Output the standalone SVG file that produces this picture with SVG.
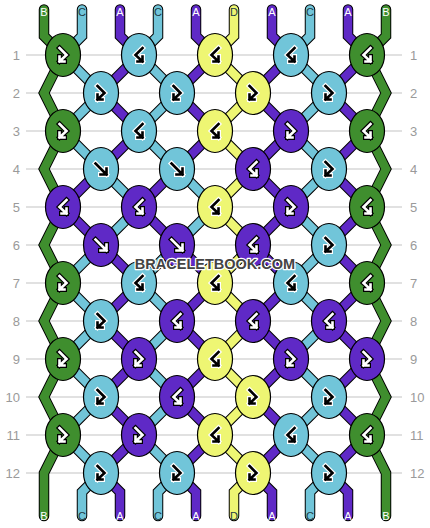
<svg xmlns="http://www.w3.org/2000/svg" xmlns:xlink="http://www.w3.org/1999/xlink" width="430" height="528" viewBox="0 0 430 528">
<style>
.rl{stroke:#c4c4c4;stroke-width:1.2}
.rn{font-family:"Liberation Sans",Arial,sans-serif;font-size:13px;fill:#9a9a9a}
.lb{font-family:"Liberation Sans",Arial,sans-serif;font-size:11px;text-anchor:middle}
.lw{fill:#fff}.lk{fill:#1f3b44}
.th{fill:none;stroke-linejoin:miter;stroke-linecap:round}
.ol{stroke:#000;stroke-width:10.5}
.cg{stroke:#3f8e2e;stroke-width:8.5}
.cb{stroke:#71c5d9;stroke-width:8.5}
.ca{stroke:#5f29c6;stroke-width:8.5}
.cd{stroke:#eef673;stroke-width:8.5}
ellipse{stroke:#000;stroke-width:1.2}
.G ellipse{fill:#3f8e2e}.A ellipse{fill:#5f29c6}.C ellipse{fill:#71c5d9}.D ellipse{fill:#eef673}
use.ao{fill:none;stroke-width:5;stroke-linecap:square;stroke-linejoin:miter}
use.ai{fill:none;stroke-width:2.6;stroke-linecap:square;stroke-linejoin:miter}
.G use.ao,.A use.ao{stroke:#000}.G use.ai,.A use.ai{stroke:#fff}
.C use.ao,.D use.ao{stroke:#fff}.C use.ai,.D use.ai{stroke:#000}
.wm{font-family:"Liberation Sans",Arial,sans-serif;font-weight:bold;font-size:14.5px;text-anchor:middle;fill:#444;stroke:#fff;stroke-width:2.5;paint-order:stroke;stroke-linejoin:round}
</style>
<defs>
<path id="f" d="M-5.5,-5.5L5.5,5.5M5.5,-0.5L5.5,5.5L-0.5,5.5"/>
<path id="b" d="M5.5,-5.5L-5.5,5.5M-5.5,-0.5L-5.5,5.5L0.5,5.5"/>
<path id="fb" d="M-3.5,-7L3.5,0L-3.5,6.5M-3.5,1.5L-3.5,6.5L1.5,6.5"/>
<path id="bf" d="M3.5,-7L-3.5,0L3.5,6.5M3.5,1.5L3.5,6.5L-1.5,6.5"/>
<polyline id="t0" points="44,9.5 44,36 63,55 44,93 63,131 44,169 63,207 44,245 63,283 44,321 63,359 44,397 63,435 44,473 44,516"/>
<polyline id="t1" points="82,9.5 82,36 63,55 101,93 63,131 101,169 139,207 101,245 63,283 101,321 63,359 101,397 63,435 101,473 82,492 82,516"/>
<polyline id="t2" points="120,9.5 120,36 139,55 101,93 139,131 101,169 63,207 101,245 139,283 101,321 139,359 101,397 139,435 101,473 120,492 120,516"/>
<polyline id="t3" points="158,9.5 158,36 139,55 177,93 139,131 177,169 215,207 177,245 139,283 177,321 139,359 177,397 139,435 177,473 158,492 158,516"/>
<polyline id="t4" points="196,9.5 196,36 215,55 177,93 215,131 177,169 139,207 177,245 215,283 177,321 215,359 177,397 215,435 177,473 196,492 196,516"/>
<polyline id="t5" points="234,9.5 234,36 215,55 253,93 215,131 253,169 215,207 253,245 215,283 253,321 215,359 253,397 215,435 253,473 234,492 234,516"/>
<polyline id="t6" points="272,9.5 272,36 291,55 253,93 291,131 253,169 291,207 253,245 291,283 253,321 291,359 253,397 291,435 253,473 272,492 272,516"/>
<polyline id="t7" points="310,9.5 310,36 291,55 329,93 291,131 329,169 291,207 329,245 291,283 329,321 291,359 329,397 291,435 329,473 310,492 310,516"/>
<polyline id="t8" points="348,9.5 348,36 367,55 329,93 367,131 329,169 367,207 329,245 367,283 329,321 367,359 329,397 367,435 329,473 348,492 348,516"/>
<polyline id="t9" points="386,9.5 386,36 367,55 386,93 367,131 386,169 367,207 386,245 367,283 386,321 367,359 386,397 367,435 386,473 386,516"/>
</defs>
<rect width="430" height="528" fill="#fff"/>
<g id="rows">
<g class="rl">
<line x1="26" y1="55" x2="402" y2="55"/><line x1="26" y1="93" x2="402" y2="93"/><line x1="26" y1="131" x2="402" y2="131"/><line x1="26" y1="169" x2="402" y2="169"/><line x1="26" y1="207" x2="402" y2="207"/><line x1="26" y1="245" x2="402" y2="245"/><line x1="26" y1="283" x2="402" y2="283"/><line x1="26" y1="321" x2="402" y2="321"/><line x1="26" y1="359" x2="402" y2="359"/><line x1="26" y1="397" x2="402" y2="397"/><line x1="26" y1="435" x2="402" y2="435"/><line x1="26" y1="473" x2="402" y2="473"/>
</g>
<g class="rn" text-anchor="end">
<text x="20" y="59.5">1</text><text x="20" y="97.5">2</text><text x="20" y="135.5">3</text><text x="20" y="173.5">4</text><text x="20" y="211.5">5</text><text x="20" y="249.5">6</text><text x="20" y="287.5">7</text><text x="20" y="325.5">8</text><text x="20" y="363.5">9</text><text x="20" y="401.5">10</text><text x="20" y="439.5">11</text><text x="20" y="477.5">12</text>
</g>
<g class="rn">
<text x="410" y="59.5">1</text><text x="410" y="97.5">2</text><text x="410" y="135.5">3</text><text x="410" y="173.5">4</text><text x="410" y="211.5">5</text><text x="410" y="249.5">6</text><text x="410" y="287.5">7</text><text x="410" y="325.5">8</text><text x="410" y="363.5">9</text><text x="410" y="401.5">10</text><text x="410" y="439.5">11</text><text x="410" y="477.5">12</text>
</g>
</g>
<g id="connectors" class="th">
<use href="#t0" class="th ol"/><use href="#t0" class="th cg"/>
<use href="#t1" class="th ol"/><use href="#t1" class="th cb"/>
<use href="#t2" class="th ol"/><use href="#t2" class="th ca"/>
<use href="#t3" class="th ol"/><use href="#t3" class="th cb"/>
<use href="#t4" class="th ol"/><use href="#t4" class="th ca"/>
<use href="#t5" class="th ol"/><use href="#t5" class="th cd"/>
<use href="#t6" class="th ol"/><use href="#t6" class="th ca"/>
<use href="#t7" class="th ol"/><use href="#t7" class="th cb"/>
<use href="#t8" class="th ol"/><use href="#t8" class="th ca"/>
<use href="#t9" class="th ol"/><use href="#t9" class="th cg"/>
</g>
<g id="labels" class="lb">
<text x="44" y="16" class="lw">B</text><text x="82" y="16" class="lk">C</text><text x="120" y="16" class="lw">A</text><text x="158" y="16" class="lk">C</text><text x="196" y="16" class="lw">A</text><text x="234" y="16" class="lk">D</text><text x="272" y="16" class="lw">A</text><text x="310" y="16" class="lk">C</text><text x="348" y="16" class="lw">A</text><text x="386" y="16" class="lw">B</text>
<text x="44" y="519.5" class="lw">B</text><text x="82" y="519.5" class="lk">C</text><text x="120" y="519.5" class="lw">A</text><text x="158" y="519.5" class="lk">C</text><text x="196" y="519.5" class="lw">A</text><text x="234" y="519.5" class="lk">D</text><text x="272" y="519.5" class="lw">A</text><text x="310" y="519.5" class="lk">C</text><text x="348" y="519.5" class="lw">A</text><text x="386" y="519.5" class="lw">B</text>
</g>
<g id="knots">
<g id="k1-1" class="G" transform="translate(63,55)"><ellipse rx="17.5" ry="21.5"/><use href="#fb" class="ao"/><use href="#fb" class="ai"/></g>
<g id="k1-2" class="C" transform="translate(139,55)"><ellipse rx="17.5" ry="21.5"/><use href="#bf" class="ao"/><use href="#bf" class="ai"/></g>
<g id="k1-3" class="D" transform="translate(215,55)"><ellipse rx="17.5" ry="21.5"/><use href="#bf" class="ao"/><use href="#bf" class="ai"/></g>
<g id="k1-4" class="C" transform="translate(291,55)"><ellipse rx="17.5" ry="21.5"/><use href="#bf" class="ao"/><use href="#bf" class="ai"/></g>
<g id="k1-5" class="G" transform="translate(367,55)"><ellipse rx="17.5" ry="21.5"/><use href="#bf" class="ao"/><use href="#bf" class="ai"/></g>

<g id="k2-1" class="C" transform="translate(101,93)"><ellipse rx="17.5" ry="21.5"/><use href="#fb" class="ao"/><use href="#fb" class="ai"/></g>
<g id="k2-2" class="C" transform="translate(177,93)"><ellipse rx="17.5" ry="21.5"/><use href="#fb" class="ao"/><use href="#fb" class="ai"/></g>
<g id="k2-3" class="D" transform="translate(253,93)"><ellipse rx="17.5" ry="21.5"/><use href="#fb" class="ao"/><use href="#fb" class="ai"/></g>
<g id="k2-4" class="C" transform="translate(329,93)"><ellipse rx="17.5" ry="21.5"/><use href="#fb" class="ao"/><use href="#fb" class="ai"/></g>

<g id="k3-1" class="G" transform="translate(63,131)"><ellipse rx="17.5" ry="21.5"/><use href="#fb" class="ao"/><use href="#fb" class="ai"/></g>
<g id="k3-2" class="C" transform="translate(139,131)"><ellipse rx="17.5" ry="21.5"/><use href="#bf" class="ao"/><use href="#bf" class="ai"/></g>
<g id="k3-3" class="D" transform="translate(215,131)"><ellipse rx="17.5" ry="21.5"/><use href="#bf" class="ao"/><use href="#bf" class="ai"/></g>
<g id="k3-4" class="A" transform="translate(291,131)"><ellipse rx="17.5" ry="21.5"/><use href="#fb" class="ao"/><use href="#fb" class="ai"/></g>
<g id="k3-5" class="G" transform="translate(367,131)"><ellipse rx="17.5" ry="21.5"/><use href="#bf" class="ao"/><use href="#bf" class="ai"/></g>

<g id="k4-1" class="C" transform="translate(101,169)"><ellipse rx="17.5" ry="21.5"/><use href="#f" class="ao"/><use href="#f" class="ai"/></g>
<g id="k4-2" class="C" transform="translate(177,169)"><ellipse rx="17.5" ry="21.5"/><use href="#f" class="ao"/><use href="#f" class="ai"/></g>
<g id="k4-3" class="A" transform="translate(253,169)"><ellipse rx="17.5" ry="21.5"/><use href="#bf" class="ao"/><use href="#bf" class="ai"/></g>
<g id="k4-4" class="C" transform="translate(329,169)"><ellipse rx="17.5" ry="21.5"/><use href="#fb" class="ao"/><use href="#fb" class="ai"/></g>

<g id="k5-1" class="A" transform="translate(63,207)"><ellipse rx="17.5" ry="21.5"/><use href="#bf" class="ao"/><use href="#bf" class="ai"/></g>
<g id="k5-2" class="A" transform="translate(139,207)"><ellipse rx="17.5" ry="21.5"/><use href="#bf" class="ao"/><use href="#bf" class="ai"/></g>
<g id="k5-3" class="D" transform="translate(215,207)"><ellipse rx="17.5" ry="21.5"/><use href="#bf" class="ao"/><use href="#bf" class="ai"/></g>
<g id="k5-4" class="A" transform="translate(291,207)"><ellipse rx="17.5" ry="21.5"/><use href="#fb" class="ao"/><use href="#fb" class="ai"/></g>
<g id="k5-5" class="G" transform="translate(367,207)"><ellipse rx="17.5" ry="21.5"/><use href="#bf" class="ao"/><use href="#bf" class="ai"/></g>

<g id="k6-1" class="A" transform="translate(101,245)"><ellipse rx="17.5" ry="21.5"/><use href="#f" class="ao"/><use href="#f" class="ai"/></g>
<g id="k6-2" class="A" transform="translate(177,245)"><ellipse rx="17.5" ry="21.5"/><use href="#f" class="ao"/><use href="#f" class="ai"/></g>
<g id="k6-3" class="A" transform="translate(253,245)"><ellipse rx="17.5" ry="21.5"/><use href="#bf" class="ao"/><use href="#bf" class="ai"/></g>
<g id="k6-4" class="C" transform="translate(329,245)"><ellipse rx="17.5" ry="21.5"/><use href="#fb" class="ao"/><use href="#fb" class="ai"/></g>

<g id="k7-1" class="G" transform="translate(63,283)"><ellipse rx="17.5" ry="21.5"/><use href="#fb" class="ao"/><use href="#fb" class="ai"/></g>
<g id="k7-2" class="C" transform="translate(139,283)"><ellipse rx="17.5" ry="21.5"/><use href="#bf" class="ao"/><use href="#bf" class="ai"/></g>
<g id="k7-3" class="D" transform="translate(215,283)"><ellipse rx="17.5" ry="21.5"/><use href="#bf" class="ao"/><use href="#bf" class="ai"/></g>
<g id="k7-4" class="C" transform="translate(291,283)"><ellipse rx="17.5" ry="21.5"/><use href="#bf" class="ao"/><use href="#bf" class="ai"/></g>
<g id="k7-5" class="G" transform="translate(367,283)"><ellipse rx="17.5" ry="21.5"/><use href="#bf" class="ao"/><use href="#bf" class="ai"/></g>

<g id="k8-1" class="C" transform="translate(101,321)"><ellipse rx="17.5" ry="21.5"/><use href="#fb" class="ao"/><use href="#fb" class="ai"/></g>
<g id="k8-2" class="A" transform="translate(177,321)"><ellipse rx="17.5" ry="21.5"/><use href="#bf" class="ao"/><use href="#bf" class="ai"/></g>
<g id="k8-3" class="A" transform="translate(253,321)"><ellipse rx="17.5" ry="21.5"/><use href="#bf" class="ao"/><use href="#bf" class="ai"/></g>
<g id="k8-4" class="A" transform="translate(329,321)"><ellipse rx="17.5" ry="21.5"/><use href="#bf" class="ao"/><use href="#bf" class="ai"/></g>

<g id="k9-1" class="G" transform="translate(63,359)"><ellipse rx="17.5" ry="21.5"/><use href="#fb" class="ao"/><use href="#fb" class="ai"/></g>
<g id="k9-2" class="A" transform="translate(139,359)"><ellipse rx="17.5" ry="21.5"/><use href="#fb" class="ao"/><use href="#fb" class="ai"/></g>
<g id="k9-3" class="D" transform="translate(215,359)"><ellipse rx="17.5" ry="21.5"/><use href="#bf" class="ao"/><use href="#bf" class="ai"/></g>
<g id="k9-4" class="A" transform="translate(291,359)"><ellipse rx="17.5" ry="21.5"/><use href="#fb" class="ao"/><use href="#fb" class="ai"/></g>
<g id="k9-5" class="A" transform="translate(367,359)"><ellipse rx="17.5" ry="21.5"/><use href="#fb" class="ao"/><use href="#fb" class="ai"/></g>

<g id="k10-1" class="C" transform="translate(101,397)"><ellipse rx="17.5" ry="21.5"/><use href="#fb" class="ao"/><use href="#fb" class="ai"/></g>
<g id="k10-2" class="A" transform="translate(177,397)"><ellipse rx="17.5" ry="21.5"/><use href="#bf" class="ao"/><use href="#bf" class="ai"/></g>
<g id="k10-3" class="D" transform="translate(253,397)"><ellipse rx="17.5" ry="21.5"/><use href="#fb" class="ao"/><use href="#fb" class="ai"/></g>
<g id="k10-4" class="C" transform="translate(329,397)"><ellipse rx="17.5" ry="21.5"/><use href="#fb" class="ao"/><use href="#fb" class="ai"/></g>

<g id="k11-1" class="G" transform="translate(63,435)"><ellipse rx="17.5" ry="21.5"/><use href="#fb" class="ao"/><use href="#fb" class="ai"/></g>
<g id="k11-2" class="A" transform="translate(139,435)"><ellipse rx="17.5" ry="21.5"/><use href="#fb" class="ao"/><use href="#fb" class="ai"/></g>
<g id="k11-3" class="D" transform="translate(215,435)"><ellipse rx="17.5" ry="21.5"/><use href="#bf" class="ao"/><use href="#bf" class="ai"/></g>
<g id="k11-4" class="C" transform="translate(291,435)"><ellipse rx="17.5" ry="21.5"/><use href="#bf" class="ao"/><use href="#bf" class="ai"/></g>
<g id="k11-5" class="G" transform="translate(367,435)"><ellipse rx="17.5" ry="21.5"/><use href="#bf" class="ao"/><use href="#bf" class="ai"/></g>

<g id="k12-1" class="C" transform="translate(101,473)"><ellipse rx="17.5" ry="21.5"/><use href="#fb" class="ao"/><use href="#fb" class="ai"/></g>
<g id="k12-2" class="C" transform="translate(177,473)"><ellipse rx="17.5" ry="21.5"/><use href="#fb" class="ao"/><use href="#fb" class="ai"/></g>
<g id="k12-3" class="D" transform="translate(253,473)"><ellipse rx="17.5" ry="21.5"/><use href="#fb" class="ao"/><use href="#fb" class="ai"/></g>
<g id="k12-4" class="C" transform="translate(329,473)"><ellipse rx="17.5" ry="21.5"/><use href="#fb" class="ao"/><use href="#fb" class="ai"/></g>
</g>
<text class="wm" x="215" y="269">BRACELETBOOK.COM</text>
</svg>
